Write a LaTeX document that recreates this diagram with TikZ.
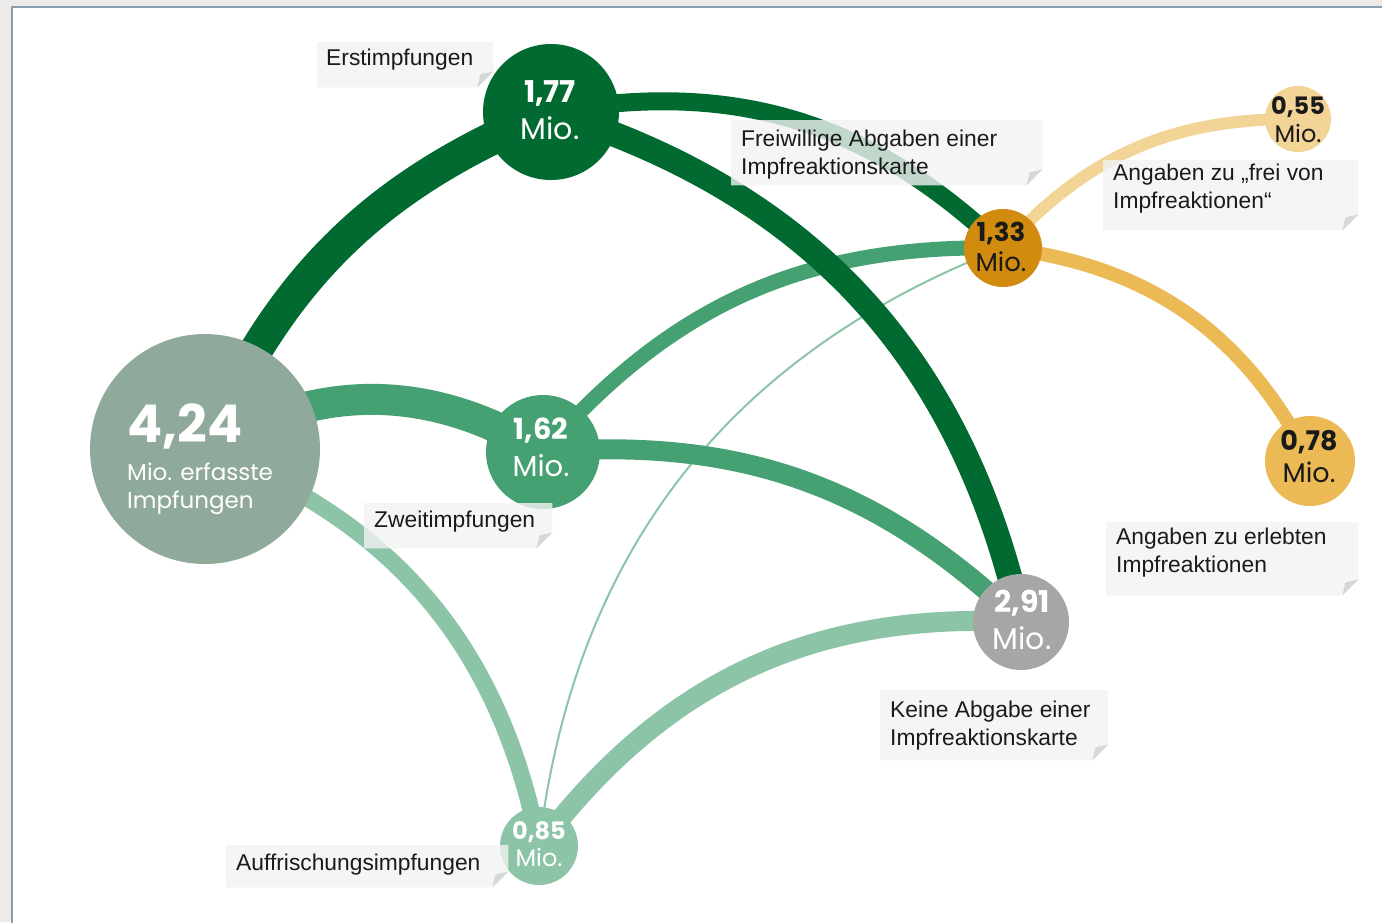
\documentclass[tikz,border=0pt]{standalone}
\usepackage{fontspec}
\setmainfont{Liberation Sans}
\newfontfamily\numfont{Poppins}
\usetikzlibrary{calc}
\pgfdeclarelayer{back}
\pgfdeclarelayer{edges}
\pgfsetlayers{back,edges,main}
\definecolor{dkgreen}{HTML}{006A31}
\definecolor{mdgreen}{HTML}{45A072}
\definecolor{ltgreen}{HTML}{8CC4A7}
\definecolor{agrey}{HTML}{8FA99B}
\definecolor{orng}{HTML}{D18C0F}
\definecolor{ylw}{HTML}{EBBA55}
\definecolor{lylw}{HTML}{F2D496}
\definecolor{fgrey}{HTML}{A6A6A6}
\definecolor{outer}{HTML}{EDEAEA}
\definecolor{frame}{HTML}{8A9EAE}
\definecolor{labfill}{HTML}{F3F3F3}
\definecolor{fold}{HTML}{D5D8D8}
\definecolor{ink}{HTML}{1A1A1A}
\newcommand\labbox[4]{%
  \node[boxn,minimum width=#3pt,minimum height=#4pt] (#1) at (#2) {};
  \fill[labfill,fill opacity=.8] (#1.north west) -- (#1.north east) -- ($(#1.south east)+(0,-16)$) -- ($(#1.south east)+(-16,0)$) -- (#1.south west) -- cycle;
  \fill[fold] ($(#1.south east)+(0,-16)$) -- ($(#1.south east)+(-16,0)$) -- ($(#1.south east)+(-13,-13)$) -- cycle;}
\begin{document}
\begin{tikzpicture}[x=1pt,y=-1pt,
  bub/.style={circle,inner sep=0pt,draw=none},
  edge/.style={line cap=butt},
  boxn/.style={rectangle,draw=none,inner sep=0pt,anchor=north west},
  labtxt/.style={anchor=north west,inner sep=0pt,align=left,text=ink,font=\fontsize{22.8}{28}\selectfont},
  num/.style={anchor=north,inner sep=0pt,align=center}]
\useasboundingbox (0,0) rectangle (1382,922);
\begin{pgfonlayer}{back}
  \fill[outer] (0,0) rectangle (1382,922);
  \fill[white] (12,7) rectangle (1390,930);
  \draw[frame,line width=1.2pt] (12,930) -- (12,7) -- (1390,7);
\end{pgfonlayer}
% circles
\node[bub,fill=agrey,minimum size=230pt] (A) at (205,449) {};
\node[bub,fill=dkgreen,minimum size=136pt] (B) at (551,112) {};
\node[bub,fill=mdgreen,minimum size=114pt] (C) at (543,452) {};
\node[bub,fill=ltgreen,minimum size=78pt] (D) at (539,846) {};
\node[bub,fill=orng,minimum size=78pt] (E) at (1003,248) {};
\node[bub,fill=fgrey,minimum size=96pt] (F) at (1021,622) {};
\node[bub,fill=lylw,minimum size=66pt] (G) at (1298,119) {};
\node[bub,fill=ylw,minimum size=90pt] (H) at (1310,461) {};
% connectors
\begin{pgfonlayer}{edges}
  \draw[edge,ltgreen,line width=2pt] (D.center) to[bend left=31] (E.center);
  \draw[edge,ltgreen,line width=17pt] (A.center) to[bend left=29] (D.center);
  \draw[edge,ltgreen,line width=20pt] (D.center) to[bend left=28] (F.center);
  \draw[edge,mdgreen,line width=15pt] (C.center) to[bend left=25] (E.center);
  \draw[edge,mdgreen,line width=20pt] (C.center) to[bend left=24] (F.center);
  \draw[edge,mdgreen,line width=31pt] (A.center) to[bend left=31] (C.center);
  \draw[edge,dkgreen,line width=33pt] (A.center) to[bend left=22] (B.center);
  \draw[edge,dkgreen,line width=18pt] (B.center) to[bend left=27] (E.center);
  \draw[edge,dkgreen,line width=25pt] (B.center) to[bend left=30] (F.center);
  \draw[edge,lylw,line width=12pt] (E.center) to[bend left=24] (G.center);
  \draw[edge,ylw,line width=14pt] (E.center) to[bend left=28] (H.center);
\end{pgfonlayer}
% numbers
\node[anchor=north west,inner sep=0pt,align=left,text=white,font=\numfont\fontsize{23}{28}\selectfont] (tA) at (127,403) {{\fontsize{52}{52}\selectfont\bfseries 4,24}\\[10pt]Mio. erfasste\\Impfungen};
\node[num,text=white,font=\numfont\fontsize{30}{37}\selectfont] (tB) at (550,80) {{\bfseries 1,77}\\Mio.};
\node[num,text=white,font=\numfont\fontsize{29}{37}\selectfont] (tC) at (541,418) {{\bfseries 1,62}\\Mio.};
\node[num,text=white,font=\numfont\fontsize{24}{27}\selectfont] (tD) at (539,821) {{\bfseries 0,85}\\Mio.};
\node[num,text=ink,font=\numfont\fontsize{26}{30}\selectfont] (tE) at (1001,222) {{\bfseries 1,33}\\Mio.};
\node[num,text=white,font=\numfont\fontsize{30}{37}\selectfont] (tF) at (1022,590) {{\bfseries 2,91}\\Mio.};
\node[num,text=ink,font=\numfont\fontsize{24}{28}\selectfont] (tG) at (1298,96) {{\bfseries 0,55}\\Mio.};
\node[num,text=ink,font=\numfont\fontsize{27}{32}\selectfont] (tH) at (1309,430) {{\bfseries 0,78}\\Mio.};
% labels
\labbox{L1}{317,42}{176}{45}
\node[labtxt] (T1) at (326,49) {Erstimpfungen};
\labbox{L2}{731,120}{311}{65}
\node[labtxt] (T2) at (741,130) {Freiwillige Abgaben einer\\Impfreaktionskarte};
\labbox{L3}{1103,160}{255}{70}
\node[labtxt] (T3) at (1113,164) {Angaben zu „frei von\\Impfreaktionen“};
\labbox{L4}{364,503}{188}{45}
\node[labtxt] (T4) at (374,511) {Zweitimpfungen};
\labbox{L5}{1106,522}{252}{73}
\node[labtxt] (T5) at (1116,528) {Angaben zu erlebten\\Impfreaktionen};
\labbox{L6}{880,690}{228}{70}
\node[labtxt] (T6) at (890,701) {Keine Abgabe einer\\Impfreaktionskarte};
\labbox{L7}{226,845}{282}{42}
\node[labtxt] (T7) at (236,854) {Auffrischungsimpfungen};
\end{tikzpicture}
\end{document}
